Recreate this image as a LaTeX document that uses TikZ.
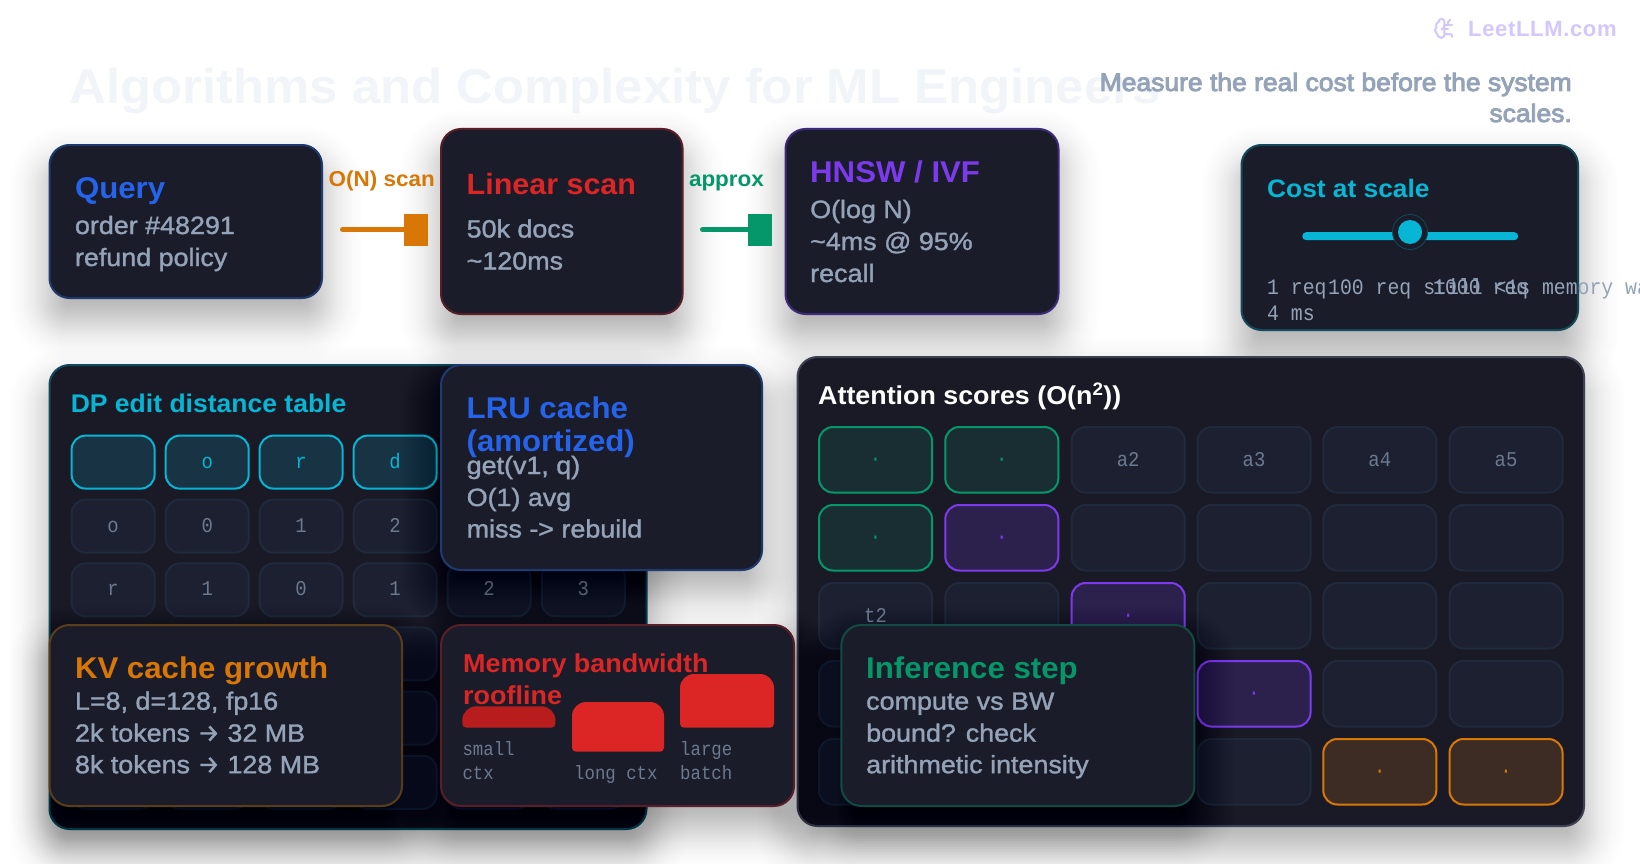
\documentclass[tikz,border=0pt]{standalone}
\usepackage{fontspec}
\usetikzlibrary{arrows.meta}
\setmainfont{Liberation Sans}
\newfontfamily\headf[FakeStretch=1.04]{Liberation Sans Bold}
\newfontfamily\bodyf[RawFeature={extend=1.075;embolden=1.3}]{Liberation Sans}
\newfontfamily\subf[RawFeature={extend=1.05;embolden=3.5}]{Liberation Sans}
\newfontfamily\logof[LetterSpace=3]{Liberation Sans Bold}
\newfontfamily\monof[FakeStretch=0.9]{Liberation Mono}
\newfontfamily\arrowf[FakeBold=1]{Fira Sans}
\definecolor{cardfill}{HTML}{1B1C29}
\definecolor{panelfill}{HTML}{191A26}
\definecolor{cellfill}{HTML}{1D2030}
\definecolor{celledge}{HTML}{202A3C}
\definecolor{bluec}{HTML}{2563EB}
\definecolor{redc}{HTML}{DC2626}
\definecolor{darkred}{HTML}{B91C1C}
\definecolor{purplec}{HTML}{7C3AED}
\definecolor{cyanc}{HTML}{06B6D4}
\definecolor{orangec}{HTML}{D97706}
\definecolor{greenc}{HTML}{059669}
\definecolor{slatet}{HTML}{94A3B8}
\definecolor{slated}{HTML}{6B7A90}
\definecolor{titlec}{HTML}{F1F5F9}
\definecolor{logoc}{HTML}{D3C7FE}
\definecolor{edgeblue}{HTML}{1E3A70}
\definecolor{edgered}{HTML}{5A1E28}
\definecolor{edgepurple}{HTML}{3E2A7A}
\definecolor{edgecyan}{HTML}{114A5A}
\definecolor{edgeorange}{HTML}{5C3D1A}
\definecolor{edgegreen}{HTML}{114C44}
\definecolor{edgeslate}{HTML}{3D4152}
\colorlet{curfill}{cardfill}
\tikzset{
  x=1pt,y=-1pt,
  cardbase/.style={rounded corners=20pt,line width=2pt,fill=curfill,anchor=north west,inner sep=0pt},
  cellbase/.style={rounded corners=14pt,line width=2pt,anchor=north west,inner sep=0pt,minimum width=#1},
  plaincell/.style={fill=cellfill,draw=celledge},
  cyancell/.style={fill=cyanc!15!cardfill,draw=cyanc},
  greencell/.style={fill=greenc!15!cardfill,draw=greenc},
  purplecell/.style={fill=purplec!18!cardfill,draw=purplec},
  orangecell/.style={fill=orangec!18!cardfill,draw=orangec},
  lab/.style={anchor=base west,inner sep=0pt},
  title/.style={lab,font=\headf\fontsize{30}{32}\selectfont},
  subtitle/.style={lab,font=\headf\fontsize{26}{30}\selectfont},
  body/.style={lab,font=\bodyf\fontsize{25}{28}\selectfont,text=slatet},
  celltext/.style={anchor=base,inner sep=0pt,font=\monof\fontsize{21}{24}\selectfont,text=#1},
  smallmono/.style={lab,font=\monof\fontsize{19.3}{22}\selectfont,text=slated},
  costmono/.style={lab,font=\monof\fontsize{22}{24}\selectfont,text=slatet},
  edgelabel/.style={lab,font=\headf\fontsize{21.6}{24}\selectfont},
  conn/.style={line width=5pt,line cap=round,draw=#1,-{Square[length=24pt,width=32pt,fill=#1]}},
}
\newcommand{\softshadow}[4]{%
  \foreach \d in {60,58,...,-60}{%
    \pgfmathsetmacro{\shop}{0.0125*exp(-(\d/30)*(\d/30))}%
    \fill[black,opacity=\shop,rounded corners={max(4,20+\d)*1pt}]
      (#1-\d,#2-\d+22) rectangle (#3+\d,#4+\d+22);
  }%
}
\newcommand{\cardbox}[6]{%
  \softshadow{#2}{#3}{#4}{#5}%
  \pgfmathsetmacro{\cw}{#4-#2-2}\pgfmathsetmacro{\ch}{#5-#3-2}%
  \node[cardbase,draw=#6,minimum width=\cw pt,minimum height=\ch pt] (#1) at (#2,#3) {};%
}
\newcommand{\gridcell}[6]{% name x y w h style
  \node[cellbase=#4 pt,minimum height=#5 pt,#6] (#1) at (#2,#3) {};%
}
\begin{document}
\begin{tikzpicture}
\useasboundingbox (0,0) rectangle (1640,864);
\fill[white] (0,0) rectangle (1640,864);
% title
\node[lab,font=\headf\fontsize{48.9}{54}\selectfont,text=titlec] (maintitle) at (69.5,104) {Algorithms and Complexity for ML Engineers};
\node[anchor=base east,inner sep=0pt,font=\subf\fontsize{25.2}{28}\selectfont,text=slatet] (sub1) at (1572,91) {Measure the real cost before the system};
\node[anchor=base east,inner sep=0pt,font=\subf\fontsize{25.2}{28}\selectfont,text=slatet] (sub2) at (1572,122) {scales.};
% logo
\begin{scope}[shift={(1433,17)},x=0.95pt,y=-0.95pt,draw=logoc,line width=2pt,line cap=round,line join=round]
\draw plot[smooth,tension=0.7] coordinates {(12,18)(11.5,20.5)(9,22)(5.5,20.5)(4,17.5)(2,14)(3.5,10.9)(3.6,6.9)(6,5.1)(6.5,3)(9,2)(11,2.7)(12,5)} -- cycle;
\draw (12,13) -- (16,13);
\draw (12,18) -- (18,18) .. controls (19.5,18) and (20,19) .. (20,20) -- (20,21);
\draw (12,8) -- (20,8);
\draw (16,8) -- (16,5) .. controls (16,4) and (17,3) .. (18,3);
\draw (9,13) .. controls (11,12.5) and (12,11) .. (12,9);
\end{scope}
\node[lab,font=\logof\fontsize{22}{24}\selectfont,text=logoc] (logo) at (1468,37) {LeetLLM.com};

% top row cards
\cardbox{query}{48.5}{144}{323}{299}{edgeblue}
\node[title,text=bluec] (querytitle) at (74.8,198) {Query};
\node[body] (queryb1) at (74.8,234) {order \#48291};
\node[body] (queryb2) at (74.8,266) {refund policy};

\cardbox{linear}{440}{128}{683.6}{315}{edgered}
\node[title,font=\headf\fontsize{29.3}{32}\selectfont,text=redc] (lineartitle) at (466.5,194) {Linear scan};
\node[body] (linearb1) at (466.5,237.5) {50k docs};
\node[body] (linearb2) at (466.5,269.5) {\textasciitilde120ms};

\cardbox{hnsw}{784.5}{128}{1059.5}{315}{edgepurple}
\node[title,text=purplec] (hnswtitle) at (810,182.5) {HNSW / IVF};
\node[body] (hnswb1) at (810,218) {O(log N)};
\node[body] (hnswb2) at (810,250) {\textasciitilde4ms @ 95\%};
\node[body] (hnswb3) at (810,282) {recall};

\draw[conn=orangec] ([shift={(19.5pt,-8pt)}]query.east) -- ([shift={(-12pt,-8pt)}]linear.west);
\draw[conn=greenc] ([shift={(18.9pt,-8pt)}]linear.east) -- ([shift={(-12.5pt,-8pt)}]hnsw.west);
\node[edgelabel,text=orangec] (scanlabel) at (328.5,186) {O(N) scan};
\node[edgelabel,text=greenc] (approxlabel) at (688.8,186) {approx};

\cardbox{cost}{1240.5}{144}{1579}{331}{edgecyan}
\node[subtitle,font=\headf\fontsize{25.3}{30}\selectfont,text=cyanc] (costtitle) at (1267,197) {Cost at scale};
\node[fill=cyanc,rounded corners=4pt,inner sep=0pt,minimum width=216pt,minimum height=8pt,anchor=north west] (track) at (1302,232) {};
\node[circle,fill=cardfill,draw=edgecyan,line width=0.8pt,inner sep=0pt,minimum size=35pt] (ring) at (1410,232) {};
\node[circle,fill=cyanc,inner sep=0pt,minimum size=24pt] (thumb) at (1410,232) {};
\node[costmono] (cost1a) at (1267,294) {1 req};
\node[costmono] (cost1b) at (1267,320) {4 ms};
\node[costmono] (cost2) at (1328,294) {100 req still <1s memory wall};
\node[costmono] (cost3) at (1433,294) {1000 req};

% DP panel
\colorlet{curfill}{panelfill}
\cardbox{dp}{48.5}{364}{647.5}{830}{edgecyan}
\colorlet{curfill}{cardfill}
\node[subtitle,font=\headf\fontsize{25.5}{30}\selectfont,text=cyanc] (dptitle) at (70.6,412) {DP edit distance table};
\foreach \c/\x in {0/70.6,1/164.7,2/258.6,3/352.6}{
  \gridcell{dph\c}{\x}{434.6}{83}{53}{cyancell}
}
\foreach \c/\x/\t in {1/164.7/o,2/258.6/r,3/352.6/d}{
  \node[celltext=cyanc] (dpht\c) at ([yshift=-6pt]dph\c.center) {\t};
}
\foreach \c/\x/\t in {0/70.6/o,1/164.7/0,2/258.6/1,3/352.6/2}{
  \gridcell{dpa\c}{\x}{498.6}{83}{53}{plaincell}
  \node[celltext=slated] (dpat\c) at ([yshift=-6pt]dpa\c.center) {\t};
}
\foreach \c/\x/\t in {0/70.6/r,1/164.7/1,2/258.6/0,3/352.6/1,4/446.6/2,5/540.8/3}{
  \gridcell{dpb\c}{\x}{562.4}{83}{53}{plaincell}
  \node[celltext=slated] (dpbt\c) at ([yshift=-6pt]dpb\c.center) {\t};
}
\foreach \r/\y in {c/626.4,d/690.6,e/754.8}{
  \foreach \c/\x in {0/70.6,1/164.7,2/258.6,3/352.6,4/446.6,5/540.8}{
    \gridcell{dp\r\c}{\x}{\y}{83}{53}{plaincell}
  }
}

\cardbox{lru}{440}{364}{763}{571}{edgeblue}
\node[title,text=bluec] (lrut1) at (466.5,418.5) {LRU cache};
\node[title,text=bluec] (lrut2) at (466.5,451.5) {(amortized)};
\node[body] (lrub1) at (466.5,474) {get(v1, q)};
\node[body] (lrub2) at (466.5,506) {O(1) avg};
\node[body] (lrub3) at (466.5,537.5) {miss -> rebuild};

% Attention panel
\colorlet{curfill}{panelfill}
\cardbox{att}{796.5}{356}{1585}{827}{edgeslate}
\colorlet{curfill}{cardfill}
\node[subtitle,font=\headf\fontsize{25.8}{30}\selectfont,text=white] (atttitle) at (818,404.5) {Attention scores (O(n\textsuperscript{2}))};
\foreach \r/\y in {0/426,1/504,2/582,3/660,4/738}{
  \foreach \c/\x in {0/818,1/944.3,2/1070.7,3/1196.5,4/1322.3,5/1448.5}{
    \gridcell{at\r\c}{\x}{\y}{113}{65.5}{plaincell}
  }
}
\foreach \n/\x/\y/\s in {at00/818/426/green,at01/944.3/426/green,at10/818/504/green,at11/944.3/504/purple,at22/1070.7/582/purple,at33/1196.5/660/purple,at44/1322.3/738/orange,at45/1448.5/738/orange}{
  \gridcell{\n}{\x}{\y}{113}{65.5}{\s cell}
  \node[celltext=\s c] (\n t) at ([yshift=-6pt]\n.center) {·};
}
\foreach \n/\t in {at02/a2,at03/a3,at04/a4,at05/a5,at20/t2}{
  \node[celltext=slated] (\n t) at ([yshift=-6.3pt]\n.center) {\t};
}

% KV
\cardbox{kv}{48.5}{624}{403}{807}{edgeorange}
\node[title,text=orangec] (kvtitle) at (74.8,678) {KV cache growth};
\node[body] (kvb1) at (74.8,709.7) {L=8, d=128, fp16};
\node[body] (kvb2) at (74.8,741.7) {2k tokens {\arrowf→} 32 MB};
\node[body] (kvb3) at (74.8,773.2) {8k tokens {\arrowf→} 128 MB};

% Memory
\cardbox{mem}{440}{624}{795}{807}{edgered}
\node[subtitle,font=\headf\fontsize{25.9}{30}\selectfont,text=redc] (memt1) at (463,672) {Memory bandwidth};
\node[subtitle,font=\headf\fontsize{25.9}{30}\selectfont,text=redc] (memt2) at (463,704.3) {roofline};
\fill[darkred,rounded corners=4pt] (462.3,727.7) -- (555.4,727.7) [rounded corners=14pt] -- (555.4,706.3) -- (462.3,706.3) [rounded corners=4pt] -- cycle;
\fill[redc,rounded corners=4pt] (572,751.7) -- (664,751.7) [rounded corners=14pt] -- (664,702) -- (572,702) [rounded corners=4pt] -- cycle;
\fill[redc,rounded corners=4pt] (680,727.7) -- (774,727.7) [rounded corners=14pt] -- (774,674) -- (680,674) [rounded corners=4pt] -- cycle;
\node[smallmono] (bar1a) at (462.3,755) {small};
\node[smallmono] (bar1b) at (462.3,779) {ctx};
\node[smallmono] (bar2) at (574,779) {long ctx};
\node[smallmono] (bar3a) at (680,755) {large};
\node[smallmono] (bar3b) at (680,779) {batch};

% Inference
\cardbox{inf}{840.4}{624}{1195.4}{807}{edgegreen}
\node[title,text=greenc] (inft) at (866,678) {Inference step};
\node[body] (infb1) at (866,709.7) {compute vs BW};
\node[body] (infb2) at (866,741.7) {bound? check};
\node[body] (infb3) at (866,773.2) {arithmetic intensity};
\end{tikzpicture}
\end{document}
